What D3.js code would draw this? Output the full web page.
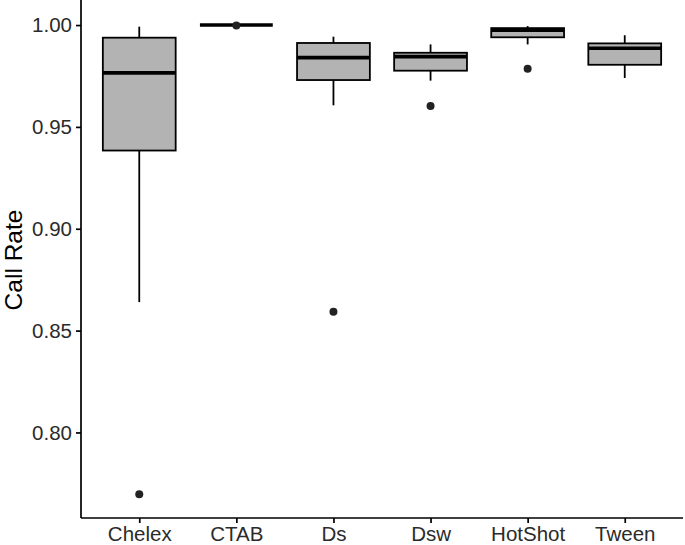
<!DOCTYPE html>
<html>
<head>
<meta charset="utf-8">
<script src="https://cdn.jsdelivr.net/npm/d3@7"></script>
<style>
  body { margin: 0; background: #fff; }
  .axis text { font-family: "Liberation Sans", Arial, sans-serif; font-size: 20.5px; fill: #2b2b2b; }
  .axis path, .axis line { stroke: #000; stroke-width: 1.7px; }
</style>
</head>
<body>
<div id="chart-area"></div>
<script>
// categories and box stats
var methods   = ["Chelex", "CTAB", "Ds", "Dsw", "HotShot", "Tween"];
var lowWhisk  = [0.864, 1.000, 0.9606, 0.9727, 0.9905, 0.974];
var q1        = [0.9384, 1.000, 0.973, 0.9776, 0.994, 0.9805];
var medians   = [0.9765, 1.000, 0.984, 0.9845, 0.9975, 0.9886];
var q3        = [0.9938, 1.000, 0.9912, 0.9864, 0.9985, 0.991];
var highWhisk = [0.9992, 1.000, 0.9943, 0.9905, 0.9995, 0.995];
var outliers  = [[0.7696], [0.9998], [0.8593], [0.9603], [0.9786], []];
var yTicks    = [0.80, 0.85, 0.90, 0.95, 1.00];

var margin = { left: 81, right: 2, top: 0, bottom: 27 };
var width = 685 - margin.left - margin.right;
var height = 545 - margin.top - margin.bottom;

var svg = d3.select("#chart-area").append("svg")
    .attr("width", 685)
    .attr("height", 545);
var g = svg.append("g")
    .attr("transform", "translate(" + margin.left + "," + margin.top + ")");

var data = methods.map(function(m, i) {
  return { name: m, lo: lowWhisk[i], q1: q1[i], med: medians[i], q3: q3[i], hi: highWhisk[i], out: outliers[i] };
});

// ggplot-style discrete expansion: 0.6 units each side
var x = d3.scalePoint().domain(methods).range([0, width]).padding(0.6);
var step = x.step();
var y = d3.scaleLinear().domain([0.758, 1.0123]).range([height, 0]);

var boxW = step * 0.75;

var boxes = g.selectAll(".box").data(data).enter().append("g")
    .attr("class", "box")
    .attr("transform", function(d) { return "translate(" + x(d.name) + ",0)"; });

// whiskers
boxes.append("line")
    .attr("x1", 0).attr("x2", 0)
    .attr("y1", function(d) { return y(d.hi); })
    .attr("y2", function(d) { return y(d.q3); })
    .attr("stroke", "#000").attr("stroke-width", 1.8);
boxes.append("line")
    .attr("x1", 0).attr("x2", 0)
    .attr("y1", function(d) { return y(d.q1); })
    .attr("y2", function(d) { return y(d.lo); })
    .attr("stroke", "#000").attr("stroke-width", 1.8);

// box
boxes.append("rect")
    .attr("x", -boxW / 2)
    .attr("width", boxW)
    .attr("y", function(d) { return y(d.q3); })
    .attr("height", function(d) { return y(d.q1) - y(d.q3); })
    .attr("fill", "#b3b3b3")
    .attr("stroke", "#000")
    .attr("stroke-width", 1.8);

// median
boxes.append("line")
    .attr("x1", -boxW / 2).attr("x2", boxW / 2)
    .attr("y1", function(d) { return y(d.med); })
    .attr("y2", function(d) { return y(d.med); })
    .attr("stroke", "#000").attr("stroke-width", 3.6);

// outliers
boxes.selectAll(".out").data(function(d) { return d.out; }).enter().append("circle")
    .attr("class", "out")
    .attr("cx", 0)
    .attr("cy", function(v) { return y(v); })
    .attr("r", 4)
    .attr("fill", "#222");

// axes
var yAxisCall = d3.axisLeft(y).tickValues(yTicks).tickFormat(d3.format(".2f")).tickSize(5).tickPadding(4);
var xAxisCall = d3.axisBottom(x).tickSize(5).tickPadding(3);

var yAxis = g.append("g").attr("class", "y axis").call(yAxisCall);
var xAxis = g.append("g").attr("class", "x axis")
    .attr("transform", "translate(0," + height + ")")
    .call(xAxisCall);

yAxis.select(".domain").attr("d", "M0," + height + "V0");
xAxis.select(".domain").attr("d", "M0,0H" + width);
xAxis.selectAll("text").attr("dy", "0.72em");

// y title
svg.append("text")
    .attr("transform", "translate(22," + (height / 2 + 1) + ") rotate(-90)")
    .attr("text-anchor", "middle")
    .attr("font-family", "Liberation Sans, Arial, sans-serif")
    .attr("font-size", "24.5px")
    .attr("fill", "#000")
    .text("Call Rate");
</script>
</body>
</html>
